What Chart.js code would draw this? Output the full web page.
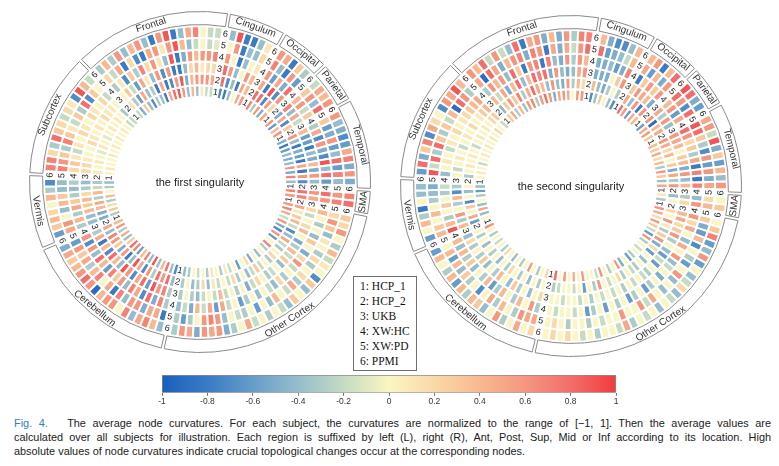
<!DOCTYPE html>
<html lang="en">
<head>
<meta charset="UTF-8" />
<title>Average node curvatures</title>
<script src="https://cdn.jsdelivr.net/npm/chart.js@4.4.1/dist/chart.umd.min.js"></script>
<style>
  body { margin: 0; width: 779px; height: 466px; background: #fff; position: relative; overflow: hidden;
         font-family: "Liberation Sans", Arial, sans-serif; }
  canvas { position: absolute; }
  #legend { position: absolute; left: 353px; top: 276px; width: 64px; height: 95px; box-sizing: border-box;
            border: 1px solid #6e6e6e; padding: 2px 0 0 6px; font-family: "Liberation Serif", "Times New Roman", serif;
            font-size: 11.5px; line-height: 15px; color: #111; background: #fff; }
  #caption { position: absolute; left: 14px; top: 416px; width: 757px; font-size: 10.9px; line-height: 14px; color: #222; }
  #caption div { text-align: justify; text-align-last: justify; white-space: nowrap; }
  #caption div.last { text-align-last: left; }
  #caption .fig { color: #2f7fc1; }
</style>
</head>
<body>
<canvas id="first" width="342" height="342" style="left:29px;top:11px"></canvas>
<canvas id="second" width="342" height="342" style="left:400px;top:15px"></canvas>
<canvas id="bar" width="480" height="38" style="left:150px;top:370px"></canvas>
<div id="legend"></div>
<div id="caption">
  <div><span class="fig">Fig. 4.</span>&nbsp;&nbsp; The average node curvatures. For each subject, the curvatures are normalized to the range of [−1, 1]. Then the average values are</div>
  <div>calculated over all subjects for illustration. Each region is suffixed by left (L), right (R), Ant, Post, Sup, Mid or Inf according to its location. High</div>
  <div class="last">absolute values of node curvatures indicate crucial topological changes occur at the corresponding nodes.</div>
</div>
<script>
const regions = ['Frontal', 'Cingulum', 'Occipital', 'Parietal', 'Temporal', 'SMA', 'Other Cortex', 'Cerebellum', 'Vermis', 'Subcortex'];
const subjects = ['HCP_1', 'HCP_2', 'UKB', 'XW:HC', 'XW:PD', 'PPMI'];
const colorTicks = [-1, -0.8, -0.6, -0.4, -0.2, 0, 0.2, 0.4, 0.6, 0.8, 1];

// one entry per node, values for [HCP_1, HCP_2, UKB, XW:HC, XW:PD, PPMI]
// the first singularity
const firstFrontal = [
  [-0.2,0.1,0,-0.3,0.2,-0.3], [-0.5,-0.3,0.3,0.1,-0.2,0.4], [0.3,-0.6,-0.2,-0.7,0.5,-0.3],
  [-0.4,0.5,-0.6,0.3,-0.8,0.6], [-0.7,-0.4,0.5,-0.3,0.2,-0.4], [-0.3,-0.3,0.1,0.7,-0.7,0.4],
  [-0.4,-0.8,-0.4,0.2,-0.8,0.6], [-0.8,0.5,0.6,0.6,0.5,-0.4], [0.5,-0.8,-0.7,0.1,0.6,-0.8],
  [0.8,-0.7,0.6,-0.4,0.1,0.6], [0.9,0.6,-0.8,0.9,0.6,0.9], [0.6,0.9,-0.8,-0.8,0.9,-0.8],
  [-0.4,-0.5,-0.4,-0.5,0.4,-0.4], [0.4,0.4,0.2,0.6,-0.4,0.5], [-0.4,0.6,0.4,0.4,-0.2,0.7],
  [0.1,0.6,0.1,0.6,0,0], [-0.2,0.6,0.2,0.6,-0.2,-0.2], [-0.2,0.5,0.2,0.7,-0.1,-0.2]
];
const firstCingulum = [
  [-0.7,0.8,0.8,0.6,0,-0.4], [-0.8,-0.7,0.6,0,0.6,0.9], [-0.4,-0.4,-0.4,-0.8,-0.8,-0.8],
  [0,-0.8,0,-0.4,-0.4,-0.8], [0.5,0.5,0.6,0,-0.4,-0.4], [0.6,0.4,0.4,0.1,0.2,0.1]
];
const firstOccipital = [
  [0.7,0.8,0.5,0.6,0.7,0.6], [-0.3,0.8,-0.8,-0.6,-0.4,0.5], [0.6,-0.7,0.9,0.5,-0.8,-0.8],
  [-0.5,0.6,-0.7,-0.5,0.6,0.3], [0.5,0.2,0.6,0.8,-0.6,-0.3]
];
const firstParietal = [
  [0.6,-0.5,0.7,0.4,0.3,-0.2], [-0.6,0.5,-0.4,0.6,0.6,0.5], [0.4,-0.7,0.5,-0.2,-0.4,0.4],
  [0.6,0.3,-0.2,0.3,0.8,0.6]
];
const firstTemporal = [
  [-0.5,0.6,0.4,-0.3,0.3,0.6], [-0.8,-0.4,-0.6,0.5,-0.6,-0.4], [-0.6,-0.8,-0.6,-0.7,-0.5,-0.5],
  [-0.4,-0.5,-0.8,0.6,0.6,-0.7], [-0.5,-0.6,-0.4,-0.5,-0.6,-0.6], [-0.4,-0.8,-0.5,-0.7,-0.4,0.5],
  [0.6,0.5,0.4,0.9,0.8,0.7], [-0.5,-0.8,-0.5,-0.4,-0.6,-0.5], [0.7,0.6,0.6,0.8,0.7,0.6],
  [-0.4,-0.7,-0.4,-0.6,-0.4,-0.5]
];
const firstSMA = [
  [0.7,0.8,0.6,0.8,0.6,0.7], [0.6,0.7,0.5,0.6,0.7,0.8]
];
const firstOther = [
  [0.6,0.5,0.2,0.4,0.2,0.3], [0.7,0.1,-0.2,0,0.6,0.2], [0.5,0.3,0,-0.3,0.3,0.6],
  [-0.2,0.4,0.2,0,-0.4,0], [0.6,-0.2,0.4,-0.4,0.1,-0.3], [-0.5,-0.7,0,0.3,0,0.4],
  [-0.7,-0.4,-0.5,0,-0.3,-0.2], [0.6,0.5,-0.3,-0.5,0.2,0.1], [-0.6,-0.2,0.4,0.2,-0.3,0],
  [0,-0.3,-0.2,0.6,0,-0.7], [0.7,0,0.3,-0.2,0.2,0.3], [-0.3,0.2,-0.4,0,-0.3,-0.4],
  [0,-0.3,0,-0.3,0.5,0], [-0.4,0,-0.2,0.2,-0.2,0.3], [0,-0.2,-0.3,-0.4,0,-0.4],
  [-0.5,0.3,0,-0.2,0.4,-0.2], [0.2,-0.2,0.2,0,-0.4,0], [0,-0.4,-0.2,-0.4,0,-0.3],
  [-0.6,0,-0.5,0,-0.6,0], [0,-0.3,0,-0.3,0,-0.2], [-0.2,0.2,-0.3,-0.6,-0.3,0.5],
  [0.1,-0.2,0,0,-0.2,0], [-0.3,0,-0.2,-0.2,0,-0.3], [0,-0.2,0.4,0.5,-0.4,-0.5],
  [0.1,0.1,-0.2,-0.6,0.6,0.6], [-0.3,-0.4,0,0.5,0.7,0.5], [0,0.2,-0.2,-0.2,0.6,0.6],
  [-0.2,-0.3,-0.4,0.4,0,-0.5], [0,-0.4,-0.3,-0.5,-0.3,0.5], [-0.3,0,0,-0.2,-0.6,0.6],
  [-0.4,-0.3,-0.3,-0.4,-0.3,-0.3]
];
const firstCerebellum = [
  [-0.7,-0.4,-0.3,-0.3,-0.8,-0.4], [-0.4,0.8,0.7,0.7,0.5,0.4], [0.8,0.6,0.6,-0.5,0.5,0.7],
  [0.4,0.8,0.9,0.8,-0.5,0.5], [-0.4,-0.3,-0.6,-0.7,0.6,-0.4], [0.9,0.6,0.8,0.5,0.6,0.7],
  [-0.4,-0.7,0.5,0.7,-0.4,0], [0.7,0.5,-0.7,-0.4,0.7,0.6], [0.4,0.9,0.6,0.6,-0.8,0.6],
  [-0.6,-0.4,0.9,0.3,0.5,0.4], [0.7,-0.8,-0.4,0.7,0,-0.9], [0.8,0.6,0.4,-0.6,0.7,0.6],
  [0.3,-0.5,0.8,0.4,0.4,0.8], [-0.4,0.3,-0.7,0.8,-0.3,0.6], [0.5,0.6,0.4,-0.4,0.5,0.4],
  [-0.3,0.7,-0.8,0.6,0.3,0.3], [0.6,-0.4,0.5,-0.7,0.6,0.5], [0.4,0.5,-0.3,0.6,-0.6,-0.5]
];
const firstVermis = [
  [-0.3,-0.5,-0.4,-0.3,0.5,-0.6], [0.3,-0.5,-0.4,0.4,0.6,0.3], [0.2,0.4,0.4,-0.3,0,0.4],
  [-0.3,0.5,0.3,0.5,-0.4,0.2], [0.4,-0.3,0.4,0.3,0.4,0], [0,0.4,0.2,-0.3,0.3,0.4],
  [-0.3,-0.2,-0.3,-0.4,-0.4,-0.3], [-0.4,-0.3,-0.4,-0.3,-0.4,-0.7]
];
const firstSubcortex = [
  [0,0.1,0.2,0.2,0.7,0.7], [0.1,0,0.2,0.3,0.6,0.7], [0,0.1,0.1,0.1,0.3,0.2],
  [0,0,0,-0.2,-0.3,-0.3], [0.1,-0.1,0,0.1,0.7,0.8], [0,0.1,0.2,0,0.3,0.3],
  [0.1,0,0.1,0.2,0.1,0.2], [0,-0.1,0,0.1,-0.2,-0.2], [0.1,0,0.1,0,0.3,0.2],
  [0,0.1,0,0.2,-0.3,0.1], [0.1,0,0.2,0.1,0.8,-0.7], [0,0.1,0.1,0,-0.7,0.9],
  [-0.2,0,0.1,0.2,0.3,0.4], [-0.2,-0.3,0,-0.2,0,-0.2]
];

// the second singularity
const secondFrontal = [
  [0.3,-0.4,0.4,-0.3,0.5,0.6], [0.5,0.3,-0.2,0.6,-0.9,0.4], [-0.3,0.6,0.5,0.4,0.8,0.8],
  [0.4,0.3,-0.5,0.6,0.5,-0.2], [-0.4,0.7,0.4,-0.4,-0.5,0.6], [0.6,-0.3,0.8,0.8,0.4,-0.2],
  [0.7,0.5,-0.4,0.3,0.6,-0.4], [-0.3,0.8,0.4,-0.8,0.7,0.8], [0.6,0.5,0.8,0.6,-0.5,-0.8],
  [0.8,0.4,0.7,0.7,0.7,0.5], [0.6,-0.4,0.8,-0.8,0.6,0.6], [-0.5,0.6,-0.5,0.7,-0.8,-0.5],
  [0.5,-0.4,0.6,-0.4,0.5,0.4], [0.6,-0.5,-0.4,-0.5,-0.5,-0.5], [0.5,0.6,-0.5,0.6,0.5,0.6],
  [0,-0.3,-0.4,-0.3,-0.2,-0.3], [0.6,0.4,0.5,0.6,0.6,0.7], [0.6,0.2,0.6,0.4,0.8,0.7]
];
const secondCingulum = [
  [-0.7,0.4,-0.5,-0.5,0.8,0.4], [-0.4,-0.4,-0.5,-0.5,-0.6,-0.5], [0.3,-0.5,-0.5,-0.4,-0.5,-0.7],
  [0,-0.3,0,-0.6,-0.4,-0.7], [-0.4,0,0.3,-0.5,-0.2,-0.4], [-0.7,-0.3,0.6,0.7,0.4,0.4]
];
const secondOccipital = [
  [0.8,0.5,0.3,-0.8,0.5,0.4], [0.6,-0.4,0.6,0.3,-0.6,0.6], [-0.6,0.6,0.5,0.6,0.4,-0.8],
  [0.5,-0.8,0.4,0.3,-0.5,0.4], [0.4,0.6,-0.5,0.6,0.6,0.8]
];
const secondParietal = [
  [-0.6,0.6,0.5,0.4,0.8,0.9], [0.5,-0.9,-0.3,0.6,0.6,0.8], [0.6,0.4,0.6,-0.6,-0.7,-0.5],
  [0.3,0.5,-0.4,0.5,0.8,-0.6]
];
const secondTemporal = [
  [0.4,0.6,0.6,0.8,0.9,0.5], [0.3,0.5,0.5,0.6,0.8,0.6], [0.5,0.2,0.4,0.2,0.3,-0.2],
  [0.2,0.4,0,0.3,-0.3,0.9], [0.4,0,0.3,-0.3,-0.7,-0.5], [-0.3,0.3,0.4,0.5,0.6,0.3],
  [0.6,-0.5,-0.5,-0.8,-0.6,-0.6], [0.3,0.5,0.6,0.7,0.6,0.4], [-0.4,-0.3,-0.4,-0.8,-0.5,-0.4],
  [0.5,0.6,0.4,0.7,0.5,0.6]
];
const secondSMA = [
  [0.1,-0.4,-0.3,-0.4,0.2,0], [-0.3,0,0.2,0.6,0.4,0.3]
];
const secondOther = [
  [0.6,0.2,0.4,0.6,0.3,0], [0.5,0,0.5,0.2,-0.5,0.3], [0.2,0.6,0.2,0.5,-0.6,0.7],
  [0.6,0.1,0.3,0,0.4,-0.6], [0.3,-0.3,0.6,-0.4,-0.7,-0.4], [-0.2,0.3,-0.3,0.5,0,0.6],
  [-0.6,0.6,0,0,-0.3,-0.6], [0.6,-0.5,-0.4,0.6,-0.6,0], [-0.3,0.2,-0.6,-0.4,0,-0.4],
  [0,-0.6,-0.2,-0.2,0.6,-0.2], [-0.2,0,-0.6,0,-0.4,0.2], [0,-0.4,0,-0.5,0,-0.4],
  [-0.3,0,-0.3,0,-0.4,-0.2], [-0.6,-0.3,-0.2,-0.3,0,0], [0,-0.2,0,-0.6,0.5,-0.4],
  [-0.5,0,-0.2,0,-0.2,0], [0.6,-0.3,0,-0.3,0.6,-0.2], [0,0.2,-0.3,-0.6,0,0],
  [-0.3,0,0,0,0,-0.3], [0,-0.2,-0.2,-0.3,0.6,0.5], [0.6,0,0,0,0,-0.2],
  [-0.2,0.6,-0.2,-0.6,0,0], [0,-0.3,0,0,-0.2,0], [0,0,-0.3,-0.3,0,-0.3],
  [0.6,-0.6,0,-0.6,-0.3,0], [0,0,-0.2,0,0,-0.2], [0.5,-0.2,0,-0.2,0,0],
  [0,0,0,0,-0.3,0.2], [0.6,0,-0.2,0,0,0], [0,-0.2,0,-0.2,0.2,0.2],
  [0.8,-0.3,0,0,0,0]
];
const secondCerebellum = [
  [0.2,0,0.2,-0.3,0.5,0.2], [0,-0.3,0,0.6,0.5,0], [-0.3,0,-0.4,0,0.6,0.5],
  [0,-0.4,0,0.4,-0.3,0], [0.6,0,-0.3,-0.3,0,-0.3], [0,-0.3,0.3,0,0.4,0.6],
  [-0.3,0,-0.4,0.4,-0.3,0], [0,0.2,0,-0.3,0.5,-0.4], [-0.4,-0.3,0.4,-0.6,0,0.3],
  [0,0,-0.3,0.4,-0.7,0.4], [0.2,-0.4,0,-0.3,0,-0.3], [-0.3,0,-0.4,0,-0.3,0.4],
  [0,-0.3,0.3,-0.4,0.3,-0.6], [-0.2,0,-0.3,0.3,-0.4,0.4], [0,-0.4,0,-0.3,0.4,-0.3],
  [-0.3,0,-0.3,0.4,-0.6,0], [0,-0.3,0.2,-0.4,0.4,0.4], [0.6,0,-0.4,0.4,0,-0.6]
];
const secondVermis = [
  [0,-0.6,0.4,0.9,0.4,-0.6], [-0.4,0.5,-0.3,0.4,0.3,0], [0.5,0,0.6,-0.3,0,0.4],
  [-0.4,0.3,0,0,0.4,-0.3], [0,-0.7,-0.3,0.3,0,-0.8], [-0.3,0,0.4,0,-0.3,0],
  [-0.6,-0.4,-0.7,-0.3,-0.4,-0.4], [-0.4,0,-0.3,-0.2,-0.5,-0.4]
];
const secondSubcortex = [
  [0,-0.3,0,-0.4,0.9,-0.6], [0.1,0,-0.2,0,-0.2,0.8], [0,0.1,0,0.1,0.8,-0.5],
  [-0.2,0,0.1,0,-0.3,0.3], [0,0.1,0,-0.2,0.8,0.7], [0.1,0,-0.2,0.1,0.3,-0.7],
  [0,-0.2,0,0,-0.3,0.5], [0.1,0,0.1,0.2,0.3,0.2], [0,0.1,0,0,-0.2,0],
  [0.1,0,0.2,0.1,0.4,-0.7], [0,0.1,0,0.2,-0.9,0.6], [0.2,0,0.1,0.3,0.8,0.5],
  [0,0.2,0.3,0.4,0.6,0.9], [-0.2,0.3,0.4,0.5,-0.3,0.4]
];

const firstNodes = [firstFrontal, firstCingulum, firstOccipital, firstParietal, firstTemporal,
  firstSMA, firstOther, firstCerebellum, firstVermis, firstSubcortex];
const secondNodes = [secondFrontal, secondCingulum, secondOccipital, secondParietal, secondTemporal,
  secondSMA, secondOther, secondCerebellum, secondVermis, secondSubcortex];

// colour map of the colour bar
const cmapStops = [
  [-1, '#1a5fbf'], [-0.8, '#3a7bc4'], [-0.6, '#679dc9'], [-0.4, '#96bdcc'], [-0.2, '#c5dbc2'],
  [0, '#faf6c3'], [0.2, '#f9d9a8'], [0.4, '#f8b990'], [0.6, '#f5977f'], [0.8, '#f26e6c'], [1, '#f13c3c']
];

function hexRgb(h) {
  return [parseInt(h.slice(1, 3), 16), parseInt(h.slice(3, 5), 16), parseInt(h.slice(5, 7), 16)];
}

function cmap(v) {
  v = Math.max(-1, Math.min(1, v));
  for (let i = 0; i < cmapStops.length - 1; i++) {
    const [a, ca] = cmapStops[i];
    const [b, cb] = cmapStops[i + 1];
    if (v <= b) {
      const t = (v - a) / (b - a);
      const x = hexRgb(ca), y = hexRgb(cb);
      return 'rgb(' + x.map((c, k) => Math.round(c + (y[k] - c) * t)).join(',') + ')';
    }
  }
  return cmapStops[cmapStops.length - 1][1];
}

const FONT = '"Liberation Sans", Arial, sans-serif';
const startDeg = 315.5;   // centre of the Subcortex / Frontal gap
const sep = 0.35;         // gap between region boxes, in slots

function drawRadial(ctx, arc, r, text) {
  const mid = (arc.startAngle + arc.endAngle) / 2;
  let theta = (mid + Math.PI / 2) % (2 * Math.PI);
  if (theta < 0) theta += 2 * Math.PI;
  const rot = (theta > Math.PI / 2 && theta < 3 * Math.PI / 2) ? theta - Math.PI : theta;
  ctx.save();
  ctx.translate(arc.x + r * Math.cos(mid), arc.y + r * Math.sin(mid));
  ctx.rotate(rot);
  ctx.fillText(text, 0, 0);
  ctx.restore();
}

const ringText = {
  id: 'ringText',
  afterDatasetsDraw(chart, args, opts) {
    const ctx = chart.ctx;
    ctx.save();
    ctx.textAlign = 'center';
    ctx.textBaseline = 'middle';

    // region names
    ctx.fillStyle = '#333';
    ctx.font = '10px ' + FONT;
    chart.getDatasetMeta(0).data.forEach((arc, i) => {
      if (i % 2) return;
      drawRadial(ctx, arc, (arc.innerRadius + arc.outerRadius) / 2 + 0.5, regions[i / 2]);
    });

    // subject numbers in the gaps
    ctx.fillStyle = '#222';
    ctx.font = '9px ' + FONT;
    for (let k = 0; k < 6; k++) {
      const meta = chart.getDatasetMeta(7 - k);
      meta.data.forEach((arc, j) => {
        if (opts.slots[j] === null) drawRadial(ctx, arc, (arc.innerRadius + arc.outerRadius) / 2, String(k + 1));
      });
    }

    // title in the middle
    const c = chart.getDatasetMeta(0).data[0];
    ctx.font = '11px ' + FONT;
    ctx.fillText(opts.title, c.x, c.y + 1);
    ctx.restore();
  }
};

function makeCircle(id, nodes, title) {
  const slots = [];
  nodes.forEach(list => { slots.push(null); list.forEach(n => slots.push(n)); });
  const slotDeg = 360 / slots.length;

  const boxData = [], boxFill = [], boxBorder = [];
  nodes.forEach(list => {
    boxData.push(list.length + 1 - sep, sep);
    boxFill.push('#fff', 'rgba(0,0,0,0)');
    boxBorder.push(1, 0);
  });

  const datasets = [
    { data: boxData, backgroundColor: boxFill, borderColor: '#8a8a8a', borderWidth: boxBorder,
      weight: 13, rotation: startDeg + sep * slotDeg / 2 },
    { data: [1], backgroundColor: 'rgba(0,0,0,0)', borderWidth: 0, weight: 1.5 }
  ];
  for (let k = 5; k >= 0; k--) {
    datasets.push({
      label: subjects[k],
      data: slots.map(() => 1),
      backgroundColor: slots.map(s => s ? cmap(s[k]) : 'rgba(0,0,0,0)'),
      borderColor: '#fff',
      borderWidth: slots.map(s => s ? 2 : 0),
      weight: 11.75,
      rotation: startDeg - slotDeg / 2
    });
  }

  new Chart(document.getElementById(id), {
    type: 'doughnut',
    data: { labels: slots.map((s, i) => i), datasets },
    options: {
      responsive: false,
      animation: false,
      events: [],
      cutout: 85,
      layout: { padding: 0 },
      plugins: {
        legend: { display: false },
        tooltip: { enabled: false },
        ringText: { title, slots }
      }
    },
    plugins: [ringText]
  });
}

makeCircle('first', firstNodes, 'the first singularity');
makeCircle('second', secondNodes, 'the second singularity');

// legend of the rings
document.getElementById('legend').innerHTML = subjects.map((s, i) => (i + 1) + ': ' + s).join('<br>');

// colour bar
new Chart(document.getElementById('bar'), {
  type: 'bar',
  data: {
    labels: ['curvature'],
    datasets: [{
      data: [[-1, 1]],
      backgroundColor: c => {
        const { ctx, chartArea } = c.chart;
        if (!chartArea) return null;
        const g = ctx.createLinearGradient(chartArea.left, 0, chartArea.right, 0);
        cmapStops.forEach(([v, col]) => g.addColorStop((v + 1) / 2, col));
        return g;
      },
      borderColor: '#8c8c8c',
      borderWidth: 1,
      borderSkipped: false,
      barPercentage: 1,
      categoryPercentage: 1
    }]
  },
  options: {
    indexAxis: 'y',
    responsive: false,
    animation: false,
    events: [],
    layout: { padding: { left: 12, right: 14, top: 5, bottom: 0 } },
    plugins: { legend: { display: false }, tooltip: { enabled: false } },
    scales: {
      x: {
        type: 'linear', min: -1, max: 1,
        afterBuildTicks: axis => { axis.ticks = colorTicks.map(v => ({ value: v })); },
        ticks: { callback: v => String(Math.round(v * 10) / 10), color: '#333', font: { size: 8.5, family: FONT }, padding: 1, maxRotation: 0, autoSkip: false },
        grid: { drawOnChartArea: false, tickLength: 3, color: '#777' },
        border: { display: false }
      },
      y: { display: false }
    }
  }
});
</script>
</body>
</html>
